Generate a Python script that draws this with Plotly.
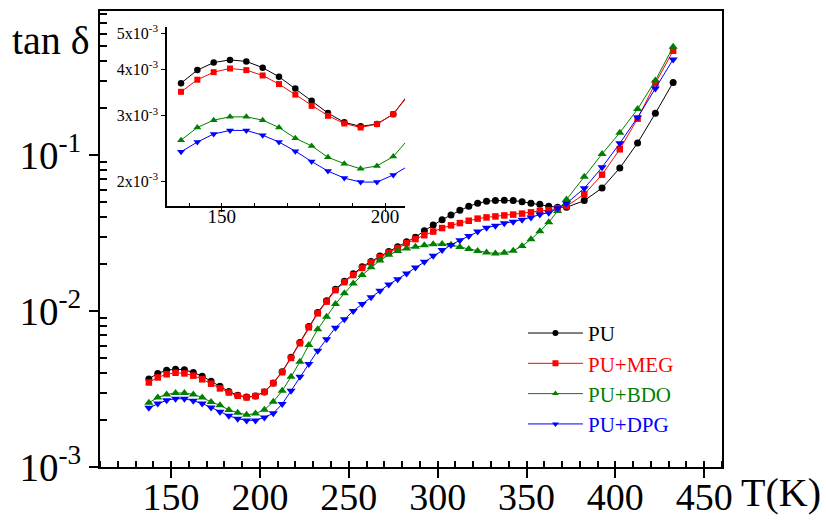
import plotly.graph_objects as go

# Temperature grid (K)
temperature = [
    137.5, 142.5, 147.5, 152.5, 157.5, 162.5, 167.5, 172.5, 177.5, 182.5,
    187.5, 192.5, 197.5, 202.5, 207.5, 212.5, 217.5, 222.5, 227.5, 232.5,
    237.5, 242.5, 247.5, 252.5, 257.5, 262.5, 267.5, 272.5, 277.5, 282.5,
    287.5, 292.5, 297.5, 302.5, 307.5, 312.5, 317.5, 322.5, 327.5, 332.5,
    337.5, 342.5, 347.5, 352.5, 357.5, 362.5, 367.5, 372.5,
    382.5, 392.5, 402.5, 412.5, 422.5, 432.5,
]

# Loss tangent of each sample
tan_pu = [
    3.67e-3, 3.98e-3, 4.17e-3, 4.24e-3, 4.20e-3, 4.04e-3, 3.82e-3, 3.55e-3, 3.29e-3, 3.05e-3,
    2.88e-3, 2.81e-3, 2.85e-3, 3.03e-3, 3.46e-3, 4.08e-3, 5.05e-3, 6.28e-3, 7.95e-3, 9.78e-3,
    1.163e-2, 1.38e-2, 1.55e-2, 1.73e-2, 1.92e-2, 2.08e-2, 2.25e-2, 2.41e-2, 2.58e-2, 2.78e-2,
    2.97e-2, 3.27e-2, 3.56e-2, 3.85e-2, 4.13e-2, 4.42e-2, 4.69e-2, 4.90e-2, 5.05e-2, 5.10e-2,
    5.12e-2, 5.10e-2, 5.02e-2, 4.90e-2, 4.83e-2, 4.69e-2, 4.62e-2, 4.62e-2,
    5.10e-2, 6.14e-2, 8.25e-2, 0.1194, 0.185, 0.292,
]
tan_meg = [
    3.48e-3, 3.75e-3, 3.93e-3, 4.02e-3, 3.98e-3, 3.85e-3, 3.65e-3, 3.42e-3, 3.19e-3, 3.00e-3,
    2.86e-3, 2.79e-3, 2.85e-3, 3.03e-3, 3.44e-3, 4.05e-3, 5.00e-3, 6.21e-3, 7.86e-3, 9.66e-3,
    1.148e-2, 1.36e-2, 1.53e-2, 1.70e-2, 1.89e-2, 2.05e-2, 2.21e-2, 2.37e-2, 2.53e-2, 2.72e-2,
    2.89e-2, 3.06e-2, 3.23e-2, 3.40e-2, 3.54e-2, 3.66e-2, 3.79e-2, 3.91e-2, 3.98e-2, 4.04e-2,
    4.10e-2, 4.15e-2, 4.21e-2, 4.29e-2, 4.38e-2, 4.44e-2, 4.55e-2, 4.70e-2,
    5.60e-2, 7.48e-2, 0.1088, 0.171, 0.288, 0.466,
]
tan_bdo = [
    2.58e-3, 2.79e-3, 2.92e-3, 2.98e-3, 2.98e-3, 2.92e-3, 2.79e-3, 2.61e-3, 2.49e-3, 2.32e-3,
    2.23e-3, 2.16e-3, 2.20e-3, 2.33e-3, 2.62e-3, 3.08e-3, 3.79e-3, 4.73e-3, 6.05e-3, 7.63e-3,
    9.20e-3, 1.109e-2, 1.298e-2, 1.50e-2, 1.70e-2, 1.905e-2, 2.11e-2, 2.29e-2, 2.42e-2, 2.52e-2,
    2.58e-2, 2.64e-2, 2.68e-2, 2.69e-2, 2.66e-2, 2.57e-2, 2.50e-2, 2.42e-2, 2.37e-2, 2.34e-2,
    2.36e-2, 2.43e-2, 2.61e-2, 2.88e-2, 3.24e-2, 3.70e-2, 4.38e-2, 5.18e-2,
    7.26e-2, 0.1015, 0.139, 0.197, 0.300, 0.494,
]
tan_dpg = [
    2.40e-3, 2.55e-3, 2.68e-3, 2.74e-3, 2.74e-3, 2.66e-3, 2.55e-3, 2.41e-3, 2.26e-3, 2.13e-3,
    2.04e-3, 1.99e-3, 1.99e-3, 2.08e-3, 2.21e-3, 2.53e-3, 3.08e-3, 3.79e-3, 4.57e-3, 5.57e-3,
    6.58e-3, 7.82e-3, 8.84e-3, 1.0e-2, 1.109e-2, 1.224e-2, 1.35e-2, 1.48e-2, 1.60e-2, 1.74e-2,
    1.90e-2, 2.07e-2, 2.26e-2, 2.46e-2, 2.65e-2, 2.84e-2, 3.03e-2, 3.23e-2, 3.42e-2, 3.52e-2,
    3.65e-2, 3.74e-2, 3.85e-2, 3.98e-2, 4.15e-2, 4.27e-2, 4.55e-2, 4.90e-2,
    6.11e-2, 8.33e-2, 0.1188, 0.174, 0.267, 0.410,
]

series_names = ["PU", "PU+MEG", "PU+BDO", "PU+DPG"]
series_values = [tan_pu, tan_meg, tan_bdo, tan_dpg]
series_colors = ["#000000", "#ff0000", "#008000", "#0000ff"]
series_symbols = ["circle", "square", "triangle-up", "triangle-down"]
main_sizes = [7, 6.5, 8, 8]
inset_sizes = [6.5, 6, 7, 7]

# Axis ticks
main_xticks = [150, 200, 250, 300, 350, 400, 450]
main_yticks = [1e-3, 1e-2, 1e-1]
main_yticktext = ["10<sup>-3</sup>", "10<sup>-2</sup>", "10<sup>-1</sup>"]
main_yminor = [m * d for d in (1e-3, 1e-2, 1e-1) for m in range(2, 10)]
inset_xticks = [150, 200]
inset_yticks = [2e-3, 3e-3, 4e-3, 5e-3]
inset_yticktext = ["2x10<sup>-3</sup>", "3x10<sup>-3</sup>", "4x10<sup>-3</sup>", "5x10<sup>-3</sup>"]

FONT = "Liberation Serif"


def serif(size, color="black"):
    return dict(family=FONT, size=size, color=color)


fig = go.Figure()

# Main panel
for vals, col, sym, sz in zip(series_values, series_colors, series_symbols, main_sizes):
    fig.add_trace(go.Scatter(
        x=temperature, y=vals, mode="lines+markers", showlegend=False,
        line=dict(color=col, width=1), marker=dict(symbol=sym, size=sz, color=col),
        xaxis="x", yaxis="y",
    ))

# Inset panel (low-temperature region)
for vals, col, sym, sz in zip(series_values, series_colors, series_symbols, inset_sizes):
    fig.add_trace(go.Scatter(
        x=temperature, y=vals, mode="lines+markers", showlegend=False,
        line=dict(color=col, width=1), marker=dict(symbol=sym, size=sz, color=col),
        xaxis="x2", yaxis="y2", cliponaxis=True,
    ))

# Legend entries with coloured labels
for name, col, sym in zip(series_names, series_colors, series_symbols):
    fig.add_trace(go.Scatter(
        x=[None], y=[None], mode="lines+markers",
        name=f'<span style="color:{col}">{name}</span>',
        line=dict(color=col, width=1), marker=dict(symbol=sym, size=6, color=col),
        xaxis="x", yaxis="y",
    ))

main_x = dict(range=[110, 460])
main_y = dict(type="log", range=[-3, -0.077])

fig.update_layout(
    template="none",
    width=826, height=520,
    margin=dict(l=100, r=104, t=11, b=53),
    paper_bgcolor="white", plot_bgcolor="rgba(0,0,0,0)",
    font=serif(16),
    xaxis=dict(
        **main_x, domain=[0, 1], anchor="y",
        showline=True, linewidth=2, linecolor="black", mirror=True,
        showgrid=False, zeroline=False,
        tickmode="array", tickvals=main_xticks,
        ticks="outside", ticklen=9, tickwidth=1.5, tickcolor="black",
        tickfont=serif(38), ticklabelstandoff=-14,
        minor=dict(ticks="inside", ticklen=6, tickwidth=1.5, dtick=10, tick0=0, tickcolor="black", showgrid=False),
    ),
    yaxis=dict(
        **main_y, domain=[0, 1], anchor="x",
        showline=True, linewidth=2, linecolor="black", mirror=True,
        showgrid=False, zeroline=False,
        tickmode="array", tickvals=main_yticks, ticktext=main_yticktext,
        ticks="outside", ticklen=9, tickwidth=1.5, tickcolor="black",
        tickfont=serif(39),
        minor=dict(ticks="inside", ticklen=7, tickwidth=1.5, tickvals=main_yminor, tickcolor="black", showgrid=False),
    ),
    # inner halves of the major ticks
    xaxis3=dict(
        **main_x, overlaying="x", anchor="y", showline=False, showgrid=False, zeroline=False,
        tickmode="array", tickvals=main_xticks, ticks="inside", ticklen=9, tickwidth=1.5,
        tickcolor="black", showticklabels=False,
    ),
    yaxis3=dict(
        **main_y, overlaying="y", anchor="x", showline=False, showgrid=False, zeroline=False,
        tickmode="array", tickvals=main_yticks, ticks="inside", ticklen=9, tickwidth=1.5,
        tickcolor="black", showticklabels=False,
    ),
    xaxis2=dict(
        range=[133.2, 206.1], domain=[0.1077, 0.4904], anchor="y2",
        showline=True, linewidth=1.5, linecolor="black", mirror=False,
        showgrid=False, zeroline=False,
        tickmode="array", tickvals=inset_xticks,
        ticks="outside", ticklen=4, tickwidth=1, tickcolor="black",
        tickfont=serif(19), ticklabelstandoff=-12,
        minor=dict(ticks="inside", ticklen=3, tickwidth=1, dtick=10, tick0=0, tickcolor="black", showgrid=False),
    ),
    yaxis2=dict(
        type="log", range=[-2.7654, -2.2841], domain=[0.5724, 0.965], anchor="x2",
        showline=True, linewidth=1.5, linecolor="black", mirror=False,
        showgrid=False, zeroline=False,
        tickmode="array", tickvals=inset_yticks, ticktext=inset_yticktext,
        ticks="outside", ticklen=4, tickwidth=1, tickcolor="black",
        tickfont=serif(16),
    ),
    legend=dict(
        x=0.68, y=0.338, xanchor="left", yanchor="top",
        bgcolor="rgba(0,0,0,0)", borderwidth=0,
        font=serif(21), itemwidth=55,
        tracegroupgap=0,
    ),
    annotations=[
        dict(text="tan δ", xref="paper", yref="paper", x=-0.145, y=0.935,
             xanchor="left", yanchor="middle", showarrow=False, font=serif(40)),
        dict(text="T(K)", xref="paper", yref="paper", x=1.028, y=-0.057,
             xanchor="left", yanchor="middle", showarrow=False, font=serif(40)),
    ],
)

fig.write_html("out.html")
